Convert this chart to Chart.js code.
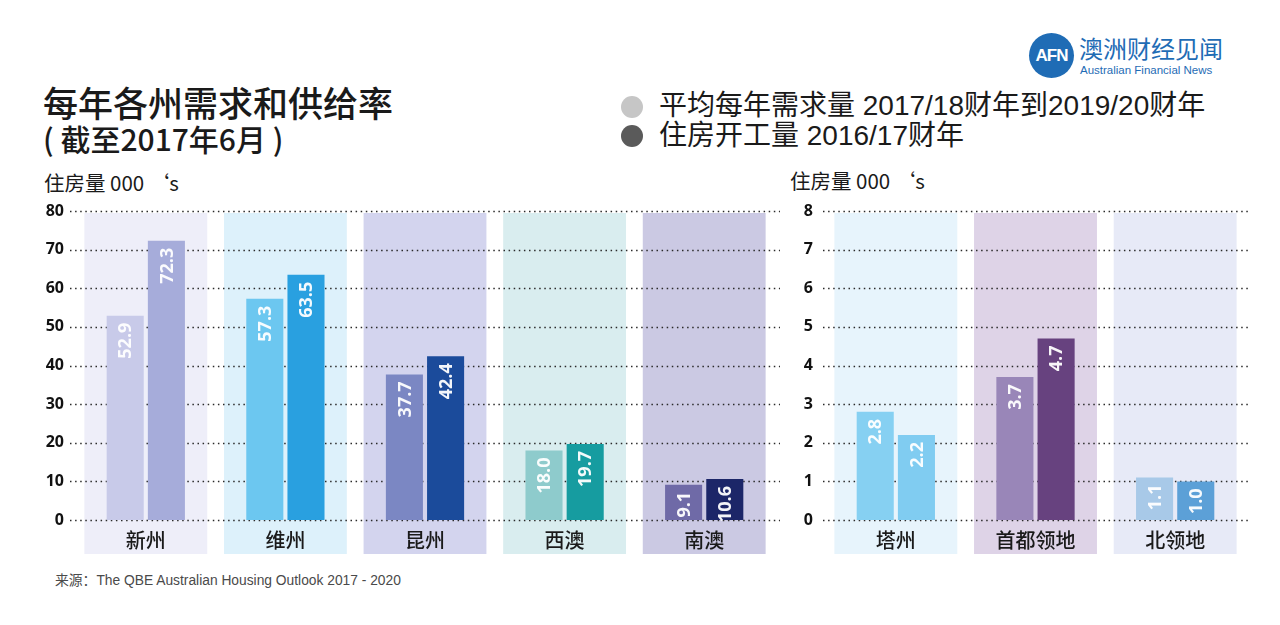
<!DOCTYPE html>
<html><head><meta charset="utf-8">
<script src="https://cdn.jsdelivr.net/npm/chart.js@4.4.0/dist/chart.umd.min.js"></script>
<style>
html,body{margin:0;padding:0;background:#fff;width:1280px;height:625px;overflow:hidden;font-family:"Noto Sans CJK SC","Noto Sans",sans-serif;}
.abs{position:absolute;white-space:nowrap;}
.med{font-family:"Noto Sans CJK SC",sans-serif;font-weight:500;}
.mix{font-family:"Liberation Sans","Noto Sans CJK SC",sans-serif;}
</style></head><body>
<div class="abs med" style="left:43px;top:80px;font-size:35px;color:#1a1a1a;line-height:44px">每年各州需求和供给率</div>
<div class="abs med" style="left:43px;top:118px;font-size:30px;color:#1a1a1a;line-height:40px">( 截至2017年6月 )</div>
<div class="abs" style="left:44px;top:169px;font-size:20.5px;color:#1a1a1a;line-height:26px">住房量 000 ‘s</div>
<div class="abs" style="left:790px;top:167px;font-size:20.5px;color:#1a1a1a;line-height:26px">住房量 000 ‘s</div>

<div class="abs" style="left:621px;top:96px;width:22px;height:22px;border-radius:50%;background:#c6c6c6"></div>
<div class="abs mix" style="left:659px;top:88px;font-size:28px;color:#1a1a1a;line-height:36px">平均每年需求量 2017/18财年到2019/20财年</div>
<div class="abs" style="left:621px;top:125px;width:22px;height:22px;border-radius:50%;background:#5a5a5a"></div>
<div class="abs mix" style="left:659px;top:118px;font-size:28px;color:#1a1a1a;line-height:36px">住房开工量 2016/17财年</div>

<div class="abs" style="left:1029px;top:33px;width:45px;height:45px;border-radius:50%;background:#1f6cb5;color:#fff;font:bold 17px 'Liberation Sans',sans-serif;line-height:45px;text-align:center;letter-spacing:-1px">AFN</div>
<div class="abs" style="left:1079px;top:32px;font-size:24px;color:#1f6cb5;line-height:32px">澳洲财经见闻</div>
<div class="abs" style="left:1080px;top:63px;font-size:11.5px;color:#1f6cb5;line-height:14px;font-family:'Liberation Sans',sans-serif">Australian Financial News</div>

<div class="abs mix" style="left:55px;top:572px;font-size:13.8px;color:#4a4a4a;line-height:18px">来源：The QBE Australian Housing Outlook 2017 - 2020</div>

<div class="abs" style="left:0;top:200px;width:790px;height:370px"><canvas id="c1" width="790" height="370"></canvas></div>
<div class="abs" style="left:780px;top:200px;width:480px;height:370px"><canvas id="c2" width="480" height="370"></canvas></div>

<script>
// ---- data ----
const leftCategories = ['新州','维州','昆州','西澳','南澳'];
const leftDemand = [52.9, 57.3, 37.7, 18.0, 9.1];
const leftStarts = [72.3, 63.5, 42.4, 19.7, 10.6];
const leftTicks = [0,10,20,30,40,50,60,70,80];

const rightCategories = ['塔州','首都领地','北领地'];
const rightDemand = [2.8, 3.7, 1.1];
const rightStarts = [2.2, 4.7, 1.0];
const rightTicks = [0,1,2,3,4,5,6,7,8];

const seriesNames = ['平均每年需求量 2017/18财年到2019/20财年','住房开工量 2016/17财年'];

// ---- styles ----
const leftDemandColors = ['#c8cae9','#6cc7f0','#7b87c3','#8ecbcc','#6f6aa7'];
const leftStartsColors = ['#a6acda','#29a0e0','#1b4b9b','#169ca0','#1c2668'];
const leftPanelColors = ['#eeeef9','#ddf1fb','#d3d4ee','#d9edef','#cbc9e3'];
const rightDemandColors = ['#86d0f2','#9986b8','#a8c9e8'];
const rightStartsColors = ['#80ccf1','#67427f','#5ca0d7'];
const rightPanelColors = ['#e7f4fc','#ded3e7','#e7eaf7'];

const panelPlugin = {
  id: 'panels',
  beforeDraw(chart, args, opts) {
    const {ctx, chartArea, scales: {x, y}} = chart;
    const n = chart.data.labels.length;
    const step = x.width / n;
    ctx.save();
    for (let i = 0; i < n; i++) {
      const cx = x.getPixelForValue(i);
      const w = step * opts.widthRatio;
      ctx.fillStyle = opts.colors[i];
      ctx.fillRect(cx - w / 2, chartArea.top + 2, w, chartArea.bottom + opts.below - chartArea.top - 2);
    }
    ctx.strokeStyle = '#2a2a2a';
    ctx.lineWidth = 1.3;
    ctx.setLineDash([1.5, 3.6]);
    y.ticks.forEach(t => {
      const py = Math.round(y.getPixelForValue(t.value)) + 0.5;
      ctx.beginPath();
      ctx.moveTo(chartArea.left - opts.extL, py);
      ctx.lineTo(chartArea.right + opts.extR, py);
      ctx.stroke();
    });
    ctx.restore();
  },
  afterDatasetsDraw(chart) {
    const ctx = chart.ctx;
    chart.data.datasets.forEach((ds, di) => {
      const meta = chart.getDatasetMeta(di);
      meta.data.forEach((bar, i) => {
        const v = ds.data[i];
        ctx.save();
        ctx.translate(bar.x, bar.y + 7);
        ctx.rotate(-Math.PI / 2);
        ctx.fillStyle = 'rgba(255,255,255,0.95)';
        ctx.font = 'bold 18px "Open Sans", sans-serif';
        ctx.textAlign = 'right';
        ctx.textBaseline = 'middle';
        ctx.fillText(v.toFixed(1), 0, 1);
        ctx.restore();
      });
    });
  }
};

function makeChart(id, cats, demand, starts, dCols, sCols, pCols, ticks, yW, tickPad, rightPad, extL, extR) {
  const maxV = ticks[ticks.length - 1];
  return new Chart(document.getElementById(id), {
    type: 'bar',
    data: {
      labels: cats,
      datasets: [
        {label: seriesNames[0], data: demand, backgroundColor: dCols, borderWidth: 0,
         barPercentage: 0.9, categoryPercentage: 0.59},
        {label: seriesNames[1], data: starts, backgroundColor: sCols, borderWidth: 0,
         barPercentage: 0.9, categoryPercentage: 0.59}
      ]
    },
    options: {
      responsive: false,
      devicePixelRatio: 1,
      animation: false,
      layout: {padding: {top: 11, right: rightPad, left: 0, bottom: 0}},
      plugins: {
        legend: {display: false},
        tooltip: {enabled: false},
        panels: {colors: pCols, widthRatio: 0.88, below: 34, extL: extL, extR: extR}
      },
      scales: {
        x: {
          grid: {display: false, drawTicks: false},
          border: {display: false},
          ticks: {padding: 8, color: '#1a1a1a', font: {family: '"Noto Sans CJK SC"', size: 20, weight: '500', lineHeight: 1.2}},
          afterFit: s => { s.height = 50; }
        },
        y: {
          min: 0, max: maxV,
          afterBuildTicks: s => { s.ticks = ticks.map(v => ({value: v})); },
          grid: {display: false, drawTicks: false},
          border: {display: false},
          ticks: {padding: tickPad, color: '#111', font: {family: '"Open Sans", sans-serif', size: 16, weight: 'bold'}},
          afterFit: s => { s.width = yW; s.paddingTop = 0; s.paddingBottom = 0; }
        }
      }
    },
    plugins: [panelPlugin]
  });
}

makeChart('c1', leftCategories, leftDemand, leftStarts, leftDemandColors, leftStartsColors, leftPanelColors, leftTicks, 76, 12, 16, 6, 6);
makeChart('c2', rightCategories, rightDemand, rightStarts, rightDemandColors, rightStartsColors, rightPanelColors, rightTicks, 46, 13, 15, 3, 5);
</script>
</body></html>
